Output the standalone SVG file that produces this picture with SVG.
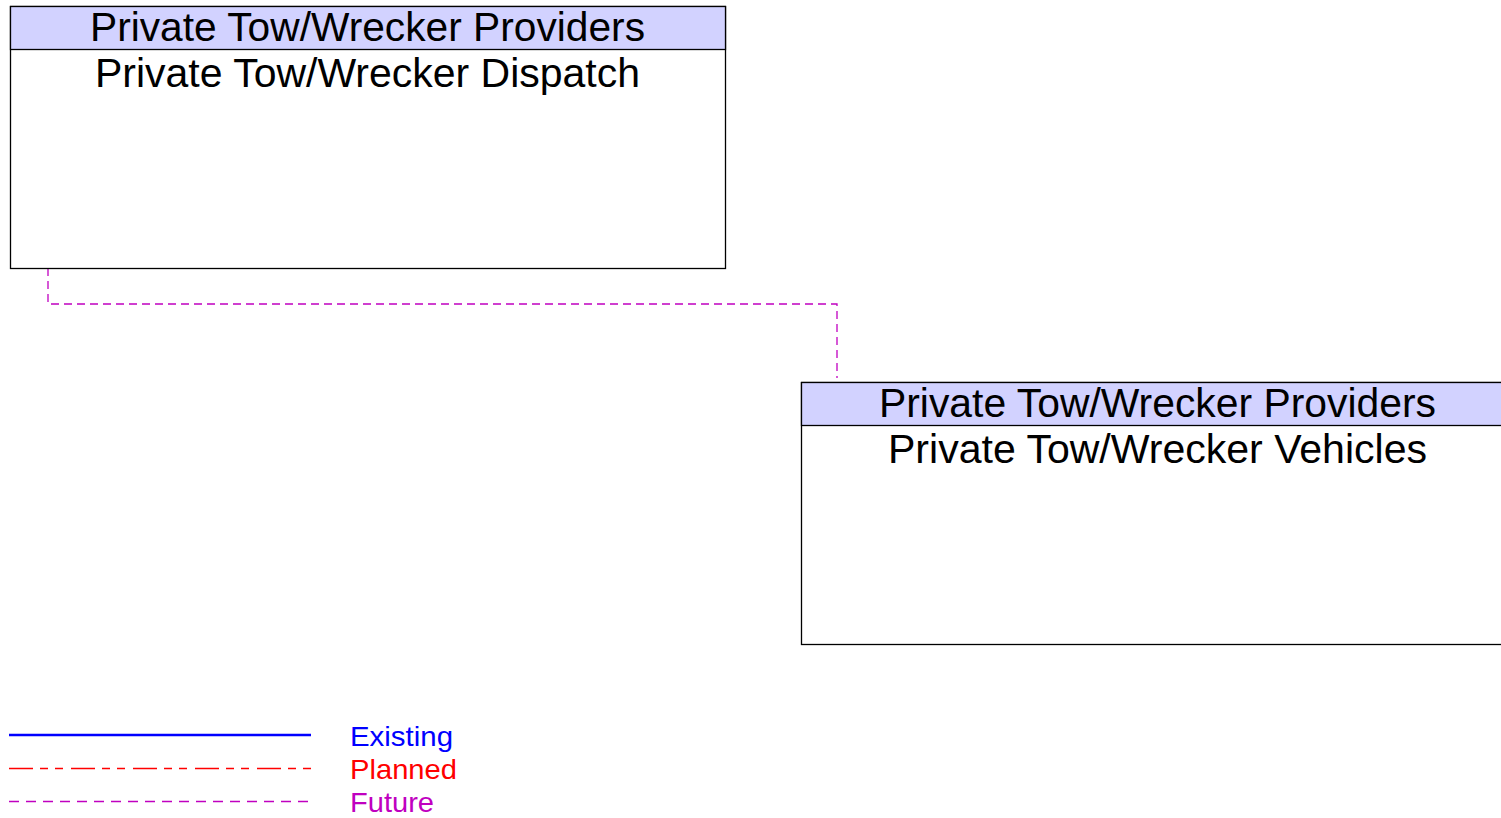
<svg xmlns="http://www.w3.org/2000/svg" width="1501" height="818" viewBox="0 0 1501 818">
<style>
.box{fill:#ffffff;stroke:#000000;stroke-width:1.3}
.hdr{fill:#d2d2ff;stroke:#000000;stroke-width:1.3}
.t{font-family:"Liberation Sans",Arial,sans-serif;font-size:40px;fill:#000000;text-anchor:middle}
.lg{font-family:"Liberation Sans",Arial,sans-serif;font-size:28px}
.future{fill:none;stroke:#c000c0;stroke-width:1.3;stroke-dasharray:8 5}
</style>
<rect width="1501" height="818" fill="#ffffff"/>
<g id="connectors">
<polyline class="future" points="48,268 48,304 837,304 837,378"/>
</g>
<g id="node-dispatch">
<rect class="box" x="10.5" y="6.5" width="715" height="262"/>
<rect class="hdr" x="10.5" y="6.5" width="715" height="43"/>
<text class="t" x="367.5" y="41" textLength="555" lengthAdjust="spacingAndGlyphs">Private Tow/Wrecker Providers</text>
<text class="t" x="367.5" y="87" textLength="545" lengthAdjust="spacingAndGlyphs">Private Tow/Wrecker Dispatch</text>
</g>
<g id="node-vehicles">
<rect class="box" x="801.5" y="382.5" width="715" height="262"/>
<rect class="hdr" x="801.5" y="382.5" width="715" height="43"/>
<text class="t" x="1157.5" y="417" textLength="557" lengthAdjust="spacingAndGlyphs">Private Tow/Wrecker Providers</text>
<text class="t" x="1157.5" y="463" textLength="539" lengthAdjust="spacingAndGlyphs">Private Tow/Wrecker Vehicles</text>
</g>
<g id="legend">
<line x1="9" y1="735" x2="311" y2="735" stroke="#0000ff" stroke-width="2.5"/>
<line x1="9" y1="768.5" x2="311" y2="768.5" stroke="#ff0000" stroke-width="1.3" stroke-dasharray="24 7 8 7 8 8"/>
<line x1="9" y1="801.5" x2="311" y2="801.5" stroke="#c000c0" stroke-width="1.3" stroke-dasharray="10 7"/>
<text class="lg" x="350" y="746" fill="#0000ff" textLength="103" lengthAdjust="spacingAndGlyphs">Existing</text>
<text class="lg" x="350" y="779" fill="#ff0000" textLength="107" lengthAdjust="spacingAndGlyphs">Planned</text>
<text class="lg" x="350" y="812" fill="#c000c0" textLength="84" lengthAdjust="spacingAndGlyphs">Future</text>
</g>
</svg>
